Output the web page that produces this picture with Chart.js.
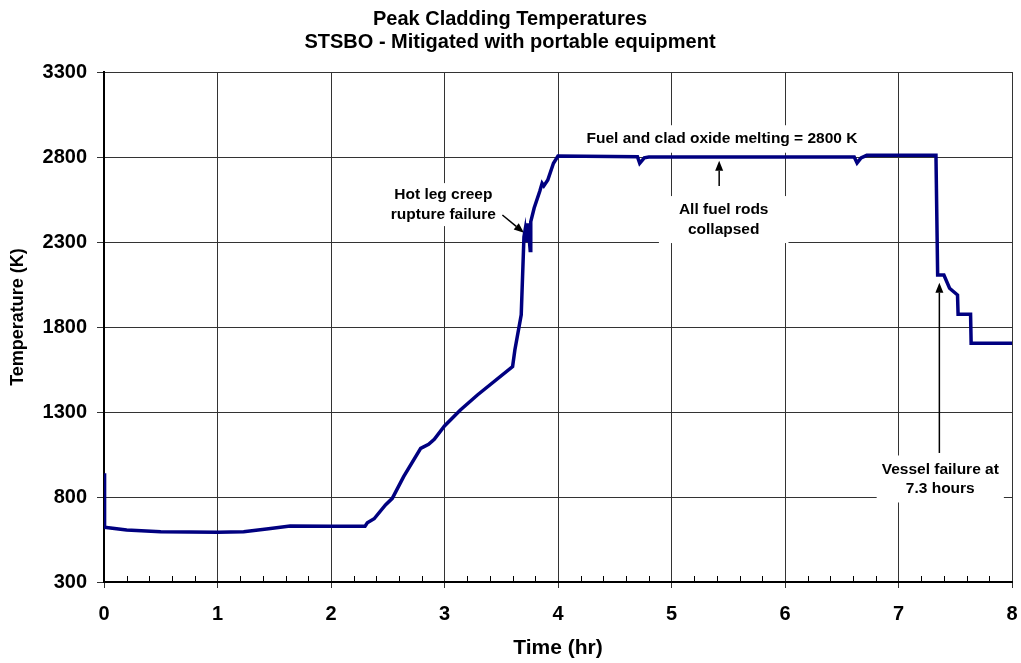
<!DOCTYPE html>
<html>
<head>
<meta charset="utf-8">
<title>Peak Cladding Temperatures</title>
<script src="https://cdn.jsdelivr.net/npm/chart.js@4.4.1/dist/chart.umd.min.js"></script>
<style>
  html, body { margin: 0; padding: 0; background: #fff; }
  #wrap { width: 1021px; height: 663px; }
</style>
</head>
<body>
<div id="wrap"><canvas id="pctChart" width="1021" height="663"></canvas></div>
<script>
// time (hr) and peak clad temperature (K)
var timesHr = [0, 0.005, 0.2, 0.5, 1.0, 1.23, 1.45, 1.64, 2.0, 2.3, 2.32, 2.38, 2.48, 2.54, 2.64,
    2.79, 2.86, 2.91, 3.0, 3.14, 3.29, 3.6, 3.62, 3.676, 3.70, 3.71, 3.72, 3.735, 3.745, 3.755,
    3.76, 3.79, 3.84, 3.86, 3.875, 3.91, 3.96, 4.0, 4.70, 4.72, 4.76, 4.80, 5.5, 6.61, 6.635,
    6.67, 6.72, 7.33, 7.345, 7.40, 7.45, 7.52, 7.525, 7.635, 7.64, 8.0];
var tempsK = [940, 622, 606, 595, 593, 596, 613, 629, 628, 628, 648, 672, 753, 792, 920,
    1086, 1110, 1139, 1218, 1312, 1400, 1567, 1665, 1871, 2330, 2370, 2300, 2410, 2330, 2250,
    2420, 2500, 2600, 2645, 2630, 2665, 2763, 2806, 2802, 2763, 2795, 2800, 2800, 2800, 2765,
    2795, 2810, 2810, 2106, 2106, 2028, 1988, 1875, 1875, 1704, 1704];

var titleLines = ['Peak Cladding Temperatures', 'STSBO - Mitigated with portable equipment'];
var xTitle = 'Time (hr)';
var yTitle = '    Temperature (K)';

// notes drawn on the plot (x in hr, y in K)
var notes = [
    { lines: ['Fuel and clad oxide melting = 2800 K'], x: 5.445, y: 2906, padX: 8, padY: 4 },
    { lines: ['Hot leg creep', 'rupture failure'], x: 2.99, y: 2520, padX: 3, padY: 2 },
    { lines: ['All fuel rods', 'collapsed'], x: 5.46, y: 2432, padX: 20, padY: 4 },
    { lines: ['Vessel failure at', '7.3 hours'], x: 7.368, y: 906, padX: 5, padY: 4 }
];
var arrows = [
    { from: [3.51, 2459], to: [3.70, 2355] },
    { from: [5.42, 2630], to: [5.42, 2778] },
    { from: [7.36, 1059], to: [7.36, 2061] }
];

var points = [];
for (var i = 0; i < timesHr.length; i++) {
    points.push({ x: timesHr[i], y: tempsK[i] });
}

var FONT = "'Liberation Sans', Arial, sans-serif";

var notesPlugin = {
    id: 'notesPlugin',
    beforeDatasetsDraw: function (chart) {
        var ctx = chart.ctx;
        var xs = chart.scales.x, ys = chart.scales.y;
        ctx.save();
        // minor ticks on the time axis
        ctx.strokeStyle = '#000';
        ctx.lineWidth = 1;
        for (var k = 1; k < 40; k++) {
            if (k % 5 === 0) continue;
            var px = Math.round(xs.getPixelForValue(k * 0.2)) + 0.5;
            ctx.beginPath();
            ctx.moveTo(px, ys.bottom);
            ctx.lineTo(px, ys.bottom - 6);
            ctx.stroke();
        }
        // text notes on white boxes
        ctx.font = 'bold 15.5px ' + FONT;
        ctx.textAlign = 'center';
        ctx.textBaseline = 'middle';
        var lh = 19.5;
        notes.forEach(function (n) {
            var cx = xs.getPixelForValue(n.x);
            var cy = ys.getPixelForValue(n.y);
            var w = 0;
            n.lines.forEach(function (l) { w = Math.max(w, ctx.measureText(l).width); });
            var h = n.lines.length * lh;
            ctx.fillStyle = '#fff';
            ctx.fillRect(cx - w / 2 - n.padX, cy - h / 2 - n.padY, w + 2 * n.padX, h + 2 * n.padY);
            ctx.fillStyle = '#000';
            n.lines.forEach(function (l, j) {
                ctx.fillText(l, cx, cy - h / 2 + lh / 2 + j * lh);
            });
        });
        // arrows
        arrows.forEach(function (a) {
            var x1 = xs.getPixelForValue(a.from[0]), y1 = ys.getPixelForValue(a.from[1]);
            var x2 = xs.getPixelForValue(a.to[0]), y2 = ys.getPixelForValue(a.to[1]);
            var ang = Math.atan2(y2 - y1, x2 - x1);
            var hl = 10, hw = 4;
            ctx.strokeStyle = '#000';
            ctx.lineWidth = 1.5;
            ctx.beginPath();
            ctx.moveTo(x1, y1);
            ctx.lineTo(x2 - hl * Math.cos(ang), y2 - hl * Math.sin(ang));
            ctx.stroke();
            ctx.fillStyle = '#000';
            ctx.beginPath();
            ctx.moveTo(x2, y2);
            ctx.lineTo(x2 - hl * Math.cos(ang) + hw * Math.sin(ang), y2 - hl * Math.sin(ang) - hw * Math.cos(ang));
            ctx.lineTo(x2 - hl * Math.cos(ang) - hw * Math.sin(ang), y2 - hl * Math.sin(ang) + hw * Math.cos(ang));
            ctx.closePath();
            ctx.fill();
        });
        ctx.restore();
    }
};

var ctx = document.getElementById('pctChart').getContext('2d');
var pctChart = new Chart(ctx, {
    type: 'line',
    data: {
        datasets: [{
            label: 'PCT',
            data: points,
            borderColor: '#000080',
            backgroundColor: '#000080',
            borderWidth: 3.5,
            pointRadius: 0,
            tension: 0,
            fill: false
        }]
    },
    options: {
        responsive: false,
        animation: false,
        layout: { padding: { left: 0, right: 1, top: 0, bottom: 0 } },
        plugins: {
            legend: { display: false },
            tooltip: { enabled: false },
            title: {
                display: true,
                text: titleLines,
                color: '#000',
                font: { family: FONT, size: 20, weight: 'bold', lineHeight: 1.15 },
                padding: { top: 7.5, bottom: 18.5 }
            }
        },
        scales: {
            x: {
                type: 'linear',
                min: 0,
                max: 8,
                afterFit: function (s) {
                    s.height = 81;
                    s.paddingLeft = 0;
                    s.paddingRight = 9;
                },
                ticks: {
                    stepSize: 1,
                    color: '#000',
                    padding: 14,
                    font: { family: FONT, size: 20, weight: 'bold' }
                },
                grid: { color: '#333', lineWidth: 1, tickLength: 6 },
                border: { color: '#000', width: 2 },
                title: {
                    display: true,
                    text: xTitle,
                    color: '#000',
                    padding: { top: 0 },
                    font: { family: FONT, size: 21, weight: 'bold', lineHeight: 1.0 }
                }
            },
            y: {
                min: 300,
                max: 3300,
                afterFit: function (s) { s.width = 104; },
                ticks: {
                    stepSize: 500,
                    color: '#000',
                    padding: 10,
                    font: { family: FONT, size: 20, weight: 'bold' },
                    callback: function (v) { return String(v); }
                },
                grid: { color: '#333', lineWidth: 1, tickLength: 7 },
                border: { color: '#000', width: 2 },
                title: {
                    display: true,
                    text: yTitle,
                    color: '#000',
                    padding: { top: 7 },
                    font: { family: FONT, size: 18, weight: 'bold', lineHeight: 1.2 }
                }
            }
        }
    },
    plugins: [notesPlugin]
});
</script>
</body>
</html>
